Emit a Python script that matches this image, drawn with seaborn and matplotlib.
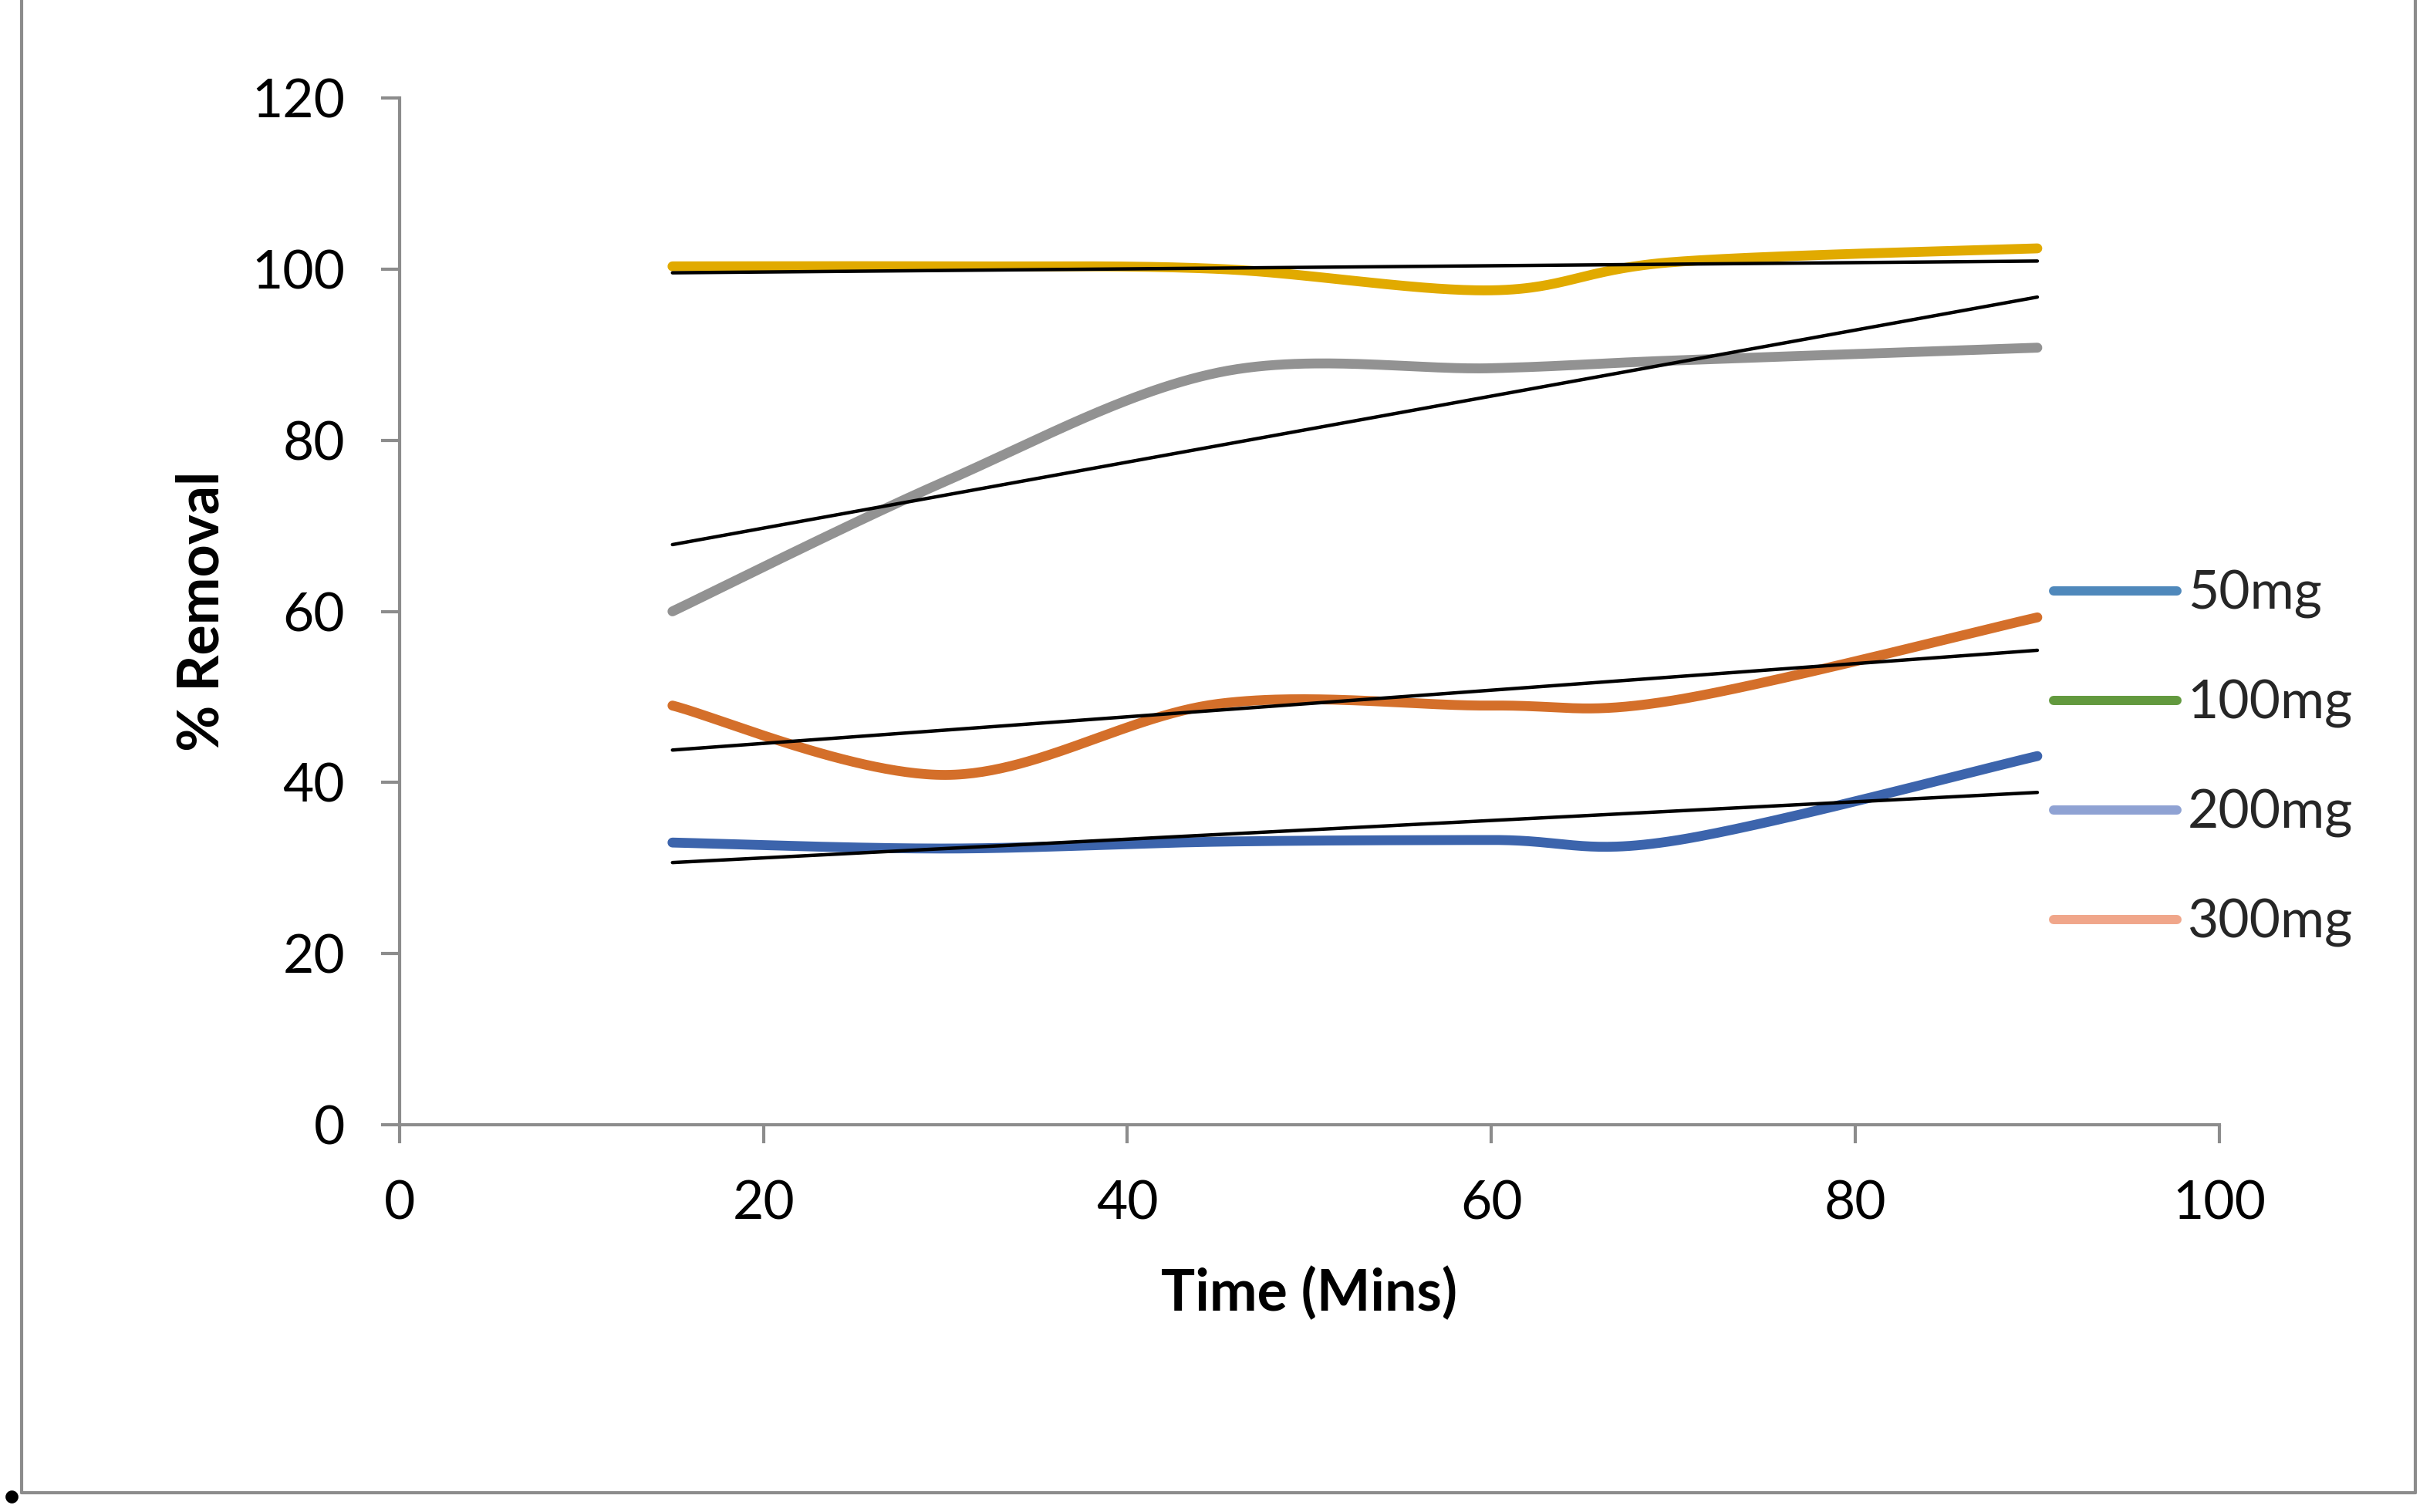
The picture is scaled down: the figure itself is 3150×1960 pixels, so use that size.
import numpy as np
import pandas as pd
import seaborn as sns
import matplotlib.pyplot as plt
from matplotlib.lines import Line2D

# tempo (min) e % de remocao
tempo = [15, 30, 45, 60, 70, 90]
serie_azul = [33.0, 32.3, 33.1, 33.3, 33.2, 43.1]
serie_laranja = [49.0, 40.9, 49.2, 49.0, 49.6, 59.3]
serie_cinza = [60.0, 75.2, 87.9, 88.4, 89.3, 90.8]
serie_ouro = [100.3, 100.3, 100.0, 97.5, 100.8, 102.4]

legenda = ["50mg", "100mg", "200mg", "300mg"]
cores_legenda = ["#4F88BB", "#62993E", "#8FA2D3", "#F0A68A"]

x_ticks = [0, 20, 40, 60, 80, 100]
y_ticks = [0, 20, 40, 60, 80, 100, 120]

series = {
    "azul": (serie_azul, "#3C64AC"),
    "laranja": (serie_laranja, "#D46F2A"),
    "cinza": (serie_cinza, "#929292"),
    "ouro": (serie_ouro, "#E1AA00"),
}


def suavizar(x, y, n=60):
    # curva suavizada estilo excel (bezier com tangentes de catmull-rom)
    p = np.column_stack([x, y]).astype(float)
    p_ext = np.vstack([p[0], p, p[-1]])
    t = np.linspace(0, 1, n)[:, None]
    pontos = []
    for i in range(len(p) - 1):
        p0, p1 = p_ext[i + 1], p_ext[i + 2]
        c1 = p0 + (p_ext[i + 2] - p_ext[i]) / 6
        c2 = p1 - (p_ext[i + 3] - p_ext[i + 1]) / 6
        seg = (1 - t) ** 3 * p0 + 3 * (1 - t) ** 2 * t * c1 + 3 * (1 - t) * t ** 2 * c2 + t ** 3 * p1
        pontos.append(seg if i == 0 else seg[1:])
    pontos = np.vstack(pontos)
    return pontos[:, 0], pontos[:, 1]


sns.set_theme(style="white")
plt.rcParams['font.family'] = ['Lato', 'DejaVu Sans']

cinza_eixo = "#8C8C8C"

fig = plt.figure(figsize=(15.75, 9.8), dpi=200)
ax = fig.add_axes([0.1644, 0.2559, 0.7489, 0.6795])

for nome, (valores, cor) in series.items():
    xs, ys = suavizar(tempo, valores)
    df = pd.DataFrame({"Tempo": xs, "Remocao": ys})
    sns.lineplot(data=df, x="Tempo", y="Remocao", sort=False, estimator=None,
                 color=cor, linewidth=4.6, solid_capstyle="round", ax=ax, zorder=3)

# linhas de tendencia linear
for nome, (valores, cor) in series.items():
    a, b = np.polyfit(tempo, valores, 1)
    xt = np.array([min(tempo), max(tempo)])
    sns.lineplot(x=xt, y=a * xt + b, color="black", linewidth=1.6, ax=ax, zorder=4)

ax.set_xlim(0, 100)
ax.set_ylim(0, 120)
ax.set_xticks(x_ticks)
ax.set_yticks(y_ticks)

for lado in ["top", "right"]:
    ax.spines[lado].set_visible(False)
for lado in ["left", "bottom"]:
    ax.spines[lado].set_color(cinza_eixo)
    ax.spines[lado].set_linewidth(1.5)

ax.tick_params(axis="both", which="major", direction="out", length=8.5, width=1.5,
               color=cinza_eixo, labelsize=25, labelcolor="black", pad=17)
ax.tick_params(axis="x", bottom=True)
ax.tick_params(axis="y", left=True)

ax.set_xlabel("Time (Mins)", fontsize=26.5, fontweight="bold", color="black")
ax.set_ylabel("% Removal", fontsize=26.5, fontweight="bold", color="black")
ax.xaxis.set_label_coords(0.5, -0.164)
ax.xaxis.label.set_va("center")
ax.yaxis.set_label_coords(-0.1085, 0.5)
ax.yaxis.label.set_va("center")

handles = [Line2D([], [], color=c, linewidth=4.3, solid_capstyle="round") for c in cores_legenda]
ax.legend(handles, legenda, loc="center left", bbox_to_anchor=(0.909, 0.3565),
          frameon=False, fontsize=25, handlelength=2.3, handletextpad=0.2,
          labelspacing=1.13, borderpad=0, borderaxespad=0)

# borda da area do grafico
fig.add_artist(Line2D([0.0089, 0.0089], [0.0128, 1.0], color=cinza_eixo, linewidth=1.5))
fig.add_artist(Line2D([0.0089, 0.994], [0.0128, 0.0128], color=cinza_eixo, linewidth=1.5))
fig.add_artist(Line2D([0.994, 0.994], [0.0128, 1.0], color=cinza_eixo, linewidth=1.5))
fig.add_artist(Line2D([0.0048], [0.0102], marker="o", markersize=5, color="black", linestyle="none"))

fig.patch.set_facecolor("white")
ax.set_facecolor("white")
plt.savefig("out.png", dpi=200, facecolor="white")
